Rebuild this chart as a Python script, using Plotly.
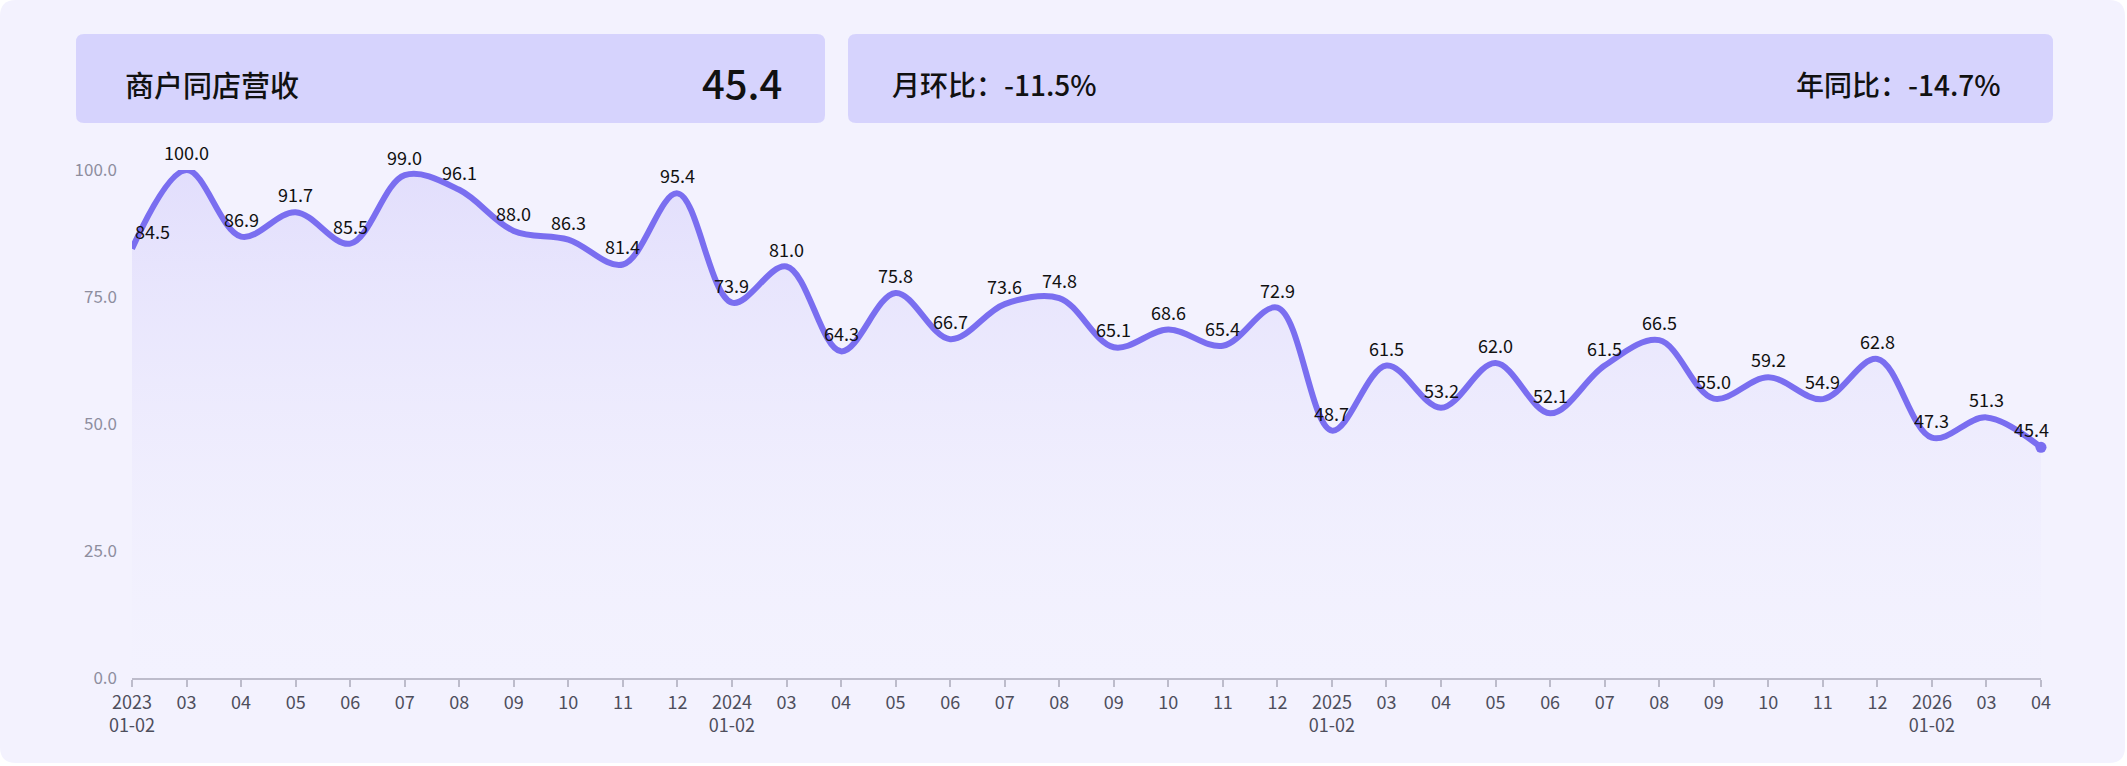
import plotly.graph_objects as go

# ---------------- data ----------------
month_labels = ["2023<br>01-02", "03", "04", "05", "06", "07", "08", "09", "10", "11", "12",
                "2024<br>01-02", "03", "04", "05", "06", "07", "08", "09", "10", "11", "12",
                "2025<br>01-02", "03", "04", "05", "06", "07", "08", "09", "10", "11", "12",
                "2026<br>01-02", "03", "04"]
revenue_index = [84.5, 100.0, 86.9, 91.7, 85.5, 99.0, 96.1, 88.0, 86.3, 81.4, 95.4,
                 73.9, 81.0, 64.3, 75.8, 66.7, 73.6, 74.8, 65.1, 68.6, 65.4, 72.9,
                 48.7, 61.5, 53.2, 62.0, 52.1, 61.5, 66.5, 55.0, 59.2, 54.9, 62.8,
                 47.3, 51.3, 45.4]
y_ticks = [0, 25, 50, 75, 100]
kpi_title = "商户同店营收"
kpi_value = "45.4"
mom_text = "月环比：-11.5%"
yoy_text = "年同比：-14.7%"

# ---------------- layout geometry (pixels) ----------------
W, H = 2127, 766
L, R, T, B = 132, 2041, 170, 678
FONT = "Noto Sans CJK SC"


def px(x):
    return (x - L) / (R - L)


def py(y):
    return (B - y) / (B - T)


def rrect(x0, y0, x1, y1, r):
    rx = r / (R - L)
    ry = r / (B - T)
    X0, X1 = px(x0), px(x1)
    Yt, Yb = py(y0), py(y1)
    return (f"M {X0+rx},{Yt} L {X1-rx},{Yt} Q {X1},{Yt} {X1},{Yt-ry} "
            f"L {X1},{Yb+ry} Q {X1},{Yb} {X1-rx},{Yb} "
            f"L {X0+rx},{Yb} Q {X0},{Yb} {X0},{Yb+ry} "
            f"L {X0},{Yt-ry} Q {X0},{Yt} {X0+rx},{Yt} Z")


xs = list(range(len(revenue_index)))

fig = go.Figure()
fig.add_trace(go.Scatter(
    x=xs, y=revenue_index,
    mode="lines",
    line=dict(color="#7A6EF0", width=6, shape="spline", smoothing=1.0),
    fill="tozeroy",
    fillgradient=dict(type="vertical", start=0, stop=100,
                      colorscale=[[0, "rgba(238,236,253,0.0)"], [1, "rgba(224,220,252,0.9)"]]),
    cliponaxis=False,
    hoverinfo="skip",
    showlegend=False,
))
# end point marker
fig.add_trace(go.Scatter(
    x=[xs[-1]], y=[revenue_index[-1]], mode="markers",
    marker=dict(color="#7A6EF0", size=11),
    cliponaxis=False, hoverinfo="skip", showlegend=False,
))

shapes = [
    dict(type="path", xref="paper", yref="paper", path=rrect(0, 0, 2125, 763, 16),
         fillcolor="#F3F2FE", line=dict(width=0), layer="below"),
    dict(type="path", xref="paper", yref="paper", path=rrect(76, 34, 825, 123, 8),
         fillcolor="#D6D3FD", line=dict(width=0), layer="below"),
    dict(type="path", xref="paper", yref="paper", path=rrect(848, 34, 2053, 123, 8),
         fillcolor="#D6D3FD", line=dict(width=0), layer="below"),
]

annotations = []
n = len(revenue_index)
for i, v in enumerate(revenue_index):
    xshift = 0
    if i == 0:
        xshift = 20
    elif i == n - 1:
        xshift = -10
    annotations.append(dict(x=i, y=v, xref="x", yref="y", text=f"{v:.1f}",
                            showarrow=False, yshift=18, xshift=xshift,
                            font=dict(family=FONT, size=18, color="#111111")))

annotations += [
    dict(x=px(123), y=py(84), xref="paper", yref="paper", text=kpi_title, showarrow=False,
         xanchor="left", yanchor="middle",
         font=dict(family=FONT, size=29, color="#111111", weight=500)),
    dict(x=px(784), y=py(82), xref="paper", yref="paper", text=kpi_value, showarrow=False,
         xanchor="right", yanchor="middle",
         font=dict(family=FONT, size=40, color="#111111", weight=500)),
    dict(x=px(890), y=py(84), xref="paper", yref="paper", text=mom_text, showarrow=False,
         xanchor="left", yanchor="middle",
         font=dict(family=FONT, size=28, color="#111111", weight=500)),
    dict(x=px(2003), y=py(84), xref="paper", yref="paper", text=yoy_text, showarrow=False,
         xanchor="right", yanchor="middle",
         font=dict(family=FONT, size=28, color="#111111", weight=500)),
]

fig.update_layout(
    width=W, height=H,
    margin=dict(l=L, r=W - R, t=T, b=H - B, pad=0),
    paper_bgcolor="#FFFFFF",
    plot_bgcolor="rgba(0,0,0,0)",
    shapes=shapes,
    annotations=annotations,
    font=dict(family=FONT),
    xaxis=dict(
        range=[0, n - 1], tickmode="array", tickvals=xs, ticktext=month_labels,
        showgrid=False, zeroline=False, showline=True, linecolor="#BDBCCB", linewidth=2,
        ticks="outside", ticklen=7, tickcolor="#BDBCCB", tickwidth=1.5,
        tickfont=dict(family=FONT, size=18, color="#4E4E5C"),
        fixedrange=True,
    ),
    yaxis=dict(
        range=[0, 100], tickmode="array", tickvals=y_ticks,
        ticktext=[f"{t:.1f}" for t in y_ticks],
        showgrid=False, zeroline=False, showline=False,
        ticks="", ticklabelstandoff=14,
        tickfont=dict(family=FONT, size=17, color="#8E8E9E"),
        fixedrange=True,
    ),
)

fig.write_html("out.html")
